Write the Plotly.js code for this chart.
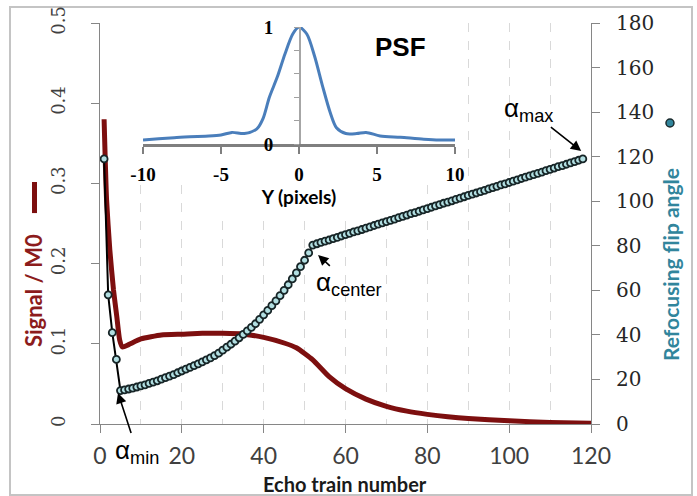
<!DOCTYPE html>
<html>
<head>
<meta charset="utf-8">
<script src="https://cdn.plot.ly/plotly-3.0.1.min.js"></script>
<style>html,body{margin:0;padding:0;background:#fff;}#chart{width:697px;height:496px;}</style>
</head>
<body>
<div id="chart"></div>
<script>
// ---- Data ----
// Signal / M0 along the echo train (left axis)
const signalEcho = [1, 1.6, 2.4, 3.3, 4.1, 4.8, 5.5, 7, 10, 15, 20, 25, 30, 35, 40, 45, 48, 52, 56, 60, 65, 70, 75, 80, 85, 90, 100, 110, 120];
const signalVal  = [0.38, 0.28, 0.217, 0.167, 0.134, 0.105, 0.096, 0.099, 0.106, 0.111, 0.112, 0.113, 0.113, 0.112, 0.108, 0.101, 0.095, 0.080, 0.059, 0.044, 0.031, 0.022, 0.016, 0.012, 0.009, 0.007, 0.004, 0.002, 0.001];

// Refocusing flip angle per echo (right axis), echoes 1..118
const flipEcho = [];
for (let i = 1; i <= 118; i++) flipEcho.push(i);
const flipAngle = [
  119, 58, 41, 29, 15,
  15.3, 15.7, 16.1, 16.6, 17.1, 17.6, 18.2, 18.8, 19.4, 20.1,
  20.8, 21.5, 22.2, 23.0, 23.8, 24.6, 25.4, 26.2, 27.0, 27.9,
  28.8, 29.7, 30.7, 31.8, 33.2, 34.5, 35.8, 37.2, 38.7, 40.2,
  41.8, 43.4, 45.0, 47.0, 49.0, 51.0, 53.1, 55.3, 57.6, 60.0,
  62.5, 65.1, 67.8, 70.6, 73.5, 76.8, 80.3,
  80.9, 81.5, 82.1, 82.6, 83.2, 83.8, 84.4, 85.0, 85.6, 86.2,
  86.7, 87.3, 87.9, 88.5, 89.1, 89.7, 90.3, 90.8, 91.4, 92.0,
  92.6, 93.2, 93.8, 94.4, 94.9, 95.5, 96.1, 96.7, 97.3, 97.9,
  98.5, 99.1, 99.6, 100.2, 100.8, 101.4, 102.0, 102.6, 103.2, 103.7,
  104.3, 104.9, 105.5, 106.1, 106.7, 107.3, 107.8, 108.4, 109.0, 109.6,
  110.2, 110.8, 111.4, 111.9, 112.5, 113.1, 113.7, 114.3, 114.9, 115.5,
  116.0, 116.6, 117.2, 117.8, 118.4, 119.0
];

// Inset: point spread function
const psfX = [-10, -9, -8, -7, -6, -5, -4.3, -3.5, -2.7, -2.3, -1.9, -1.4, -0.9, -0.4, 0, 0.5, 1.0, 1.5, 2.0, 2.4, 3.0, 3.7, 4.3, 5.2, 6.5, 8, 9, 10];
const psfY = [0.034, 0.045, 0.055, 0.062, 0.068, 0.077, 0.10, 0.09, 0.13, 0.22, 0.40, 0.57, 0.77, 0.94, 1.0, 0.94, 0.75, 0.50, 0.27, 0.14, 0.09, 0.09, 0.10, 0.07, 0.058, 0.042, 0.035, 0.034];
const psfTickVals = [-10, -5, 0, 5, 10];
const psfTickText = ['-10', '-5', '0', '5', '10'];
const psfYTickVals = [0, 1];
const psfYTickText = ['0', '1'];

// ---- Figure ----
const axisGray = '#868686';
const serif = 'DejaVu Serif';
const annFont = {family: 'Liberation Sans', size: 26, color: '#000000'};
const arrowStyle = {showarrow: true, arrowhead: 2, arrowsize: 1.3, arrowwidth: 1.6, arrowcolor: '#000000', standoff: 0};

const traces = [
  {
    x: signalEcho, y: signalVal, xaxis: 'x', yaxis: 'y',
    mode: 'lines', name: 'Signal / M0',
    line: {color: '#7d0f0f', width: 5, shape: 'spline', smoothing: 0.5},
    hoverinfo: 'skip', showlegend: false
  },
  {
    x: flipEcho, y: flipAngle, xaxis: 'x', yaxis: 'y3',
    mode: 'lines+markers', name: 'Refocusing flip angle',
    line: {color: '#000000', width: 2},
    marker: {symbol: 'circle', size: 7, color: '#b2dfe2', line: {color: '#172527', width: 1.8}},
    hoverinfo: 'skip', showlegend: false
  },
  {
    x: psfX, y: psfY, xaxis: 'x2', yaxis: 'y2',
    mode: 'lines', name: 'PSF',
    line: {color: '#4a7ebb', width: 3, shape: 'spline', smoothing: 0.8},
    hoverinfo: 'skip', showlegend: false
  }
];

const layout = {
  width: 697, height: 496,
  margin: {l: 100, r: 106, t: 23, b: 72, pad: 0},
  paper_bgcolor: '#ffffff', plot_bgcolor: '#ffffff',
  font: {family: 'Lato', color: '#404040'},
  showlegend: false,
  xaxis: {
    domain: [0, 1], range: [0, 120], anchor: 'y',
    tickmode: 'linear', tick0: 0, dtick: 20,
    ticks: 'outside', ticklen: 8, tickcolor: axisGray, tickwidth: 1,
    showline: true, linecolor: axisGray, linewidth: 1,
    showgrid: true, gridcolor: '#d9d9d9', griddash: 'dash', gridwidth: 1,
    minor: {dtick: 10, showgrid: true, gridcolor: '#d9d9d9', griddash: 'dash', ticks: ''},
    zeroline: false,
    tickfont: {family: 'Lato', size: 23, color: '#404040'},
    ticklabelstandoff: 3
  },
  yaxis: {
    domain: [0, 1], range: [0, 0.5], anchor: 'x',
    tickmode: 'linear', tick0: 0, dtick: 0.1, tickangle: -90,
    ticks: 'outside', ticklen: 8, tickcolor: axisGray,
    showline: true, linecolor: axisGray, linewidth: 1,
    showgrid: false, zeroline: false,
    tickfont: {family: serif, size: 18, color: '#404040'},
    ticklabelstandoff: 19
  },
  yaxis3: {
    overlaying: 'y', side: 'right', anchor: 'x',
    range: [0, 180], tickmode: 'linear', tick0: 0, dtick: 20,
    ticks: 'outside', ticklen: 8, tickcolor: axisGray,
    showline: true, linecolor: axisGray, linewidth: 1,
    showgrid: false, zeroline: false,
    tickfont: {family: serif, size: 20, color: '#262626'},
    ticklabelstandoff: 12
  },
  xaxis2: {
    domain: [0.0876, 0.723], range: [-10, 10], anchor: 'y2',
    tickmode: 'array', tickvals: psfTickVals, ticktext: psfTickText,
    ticks: 'outside', ticklen: 7, tickwidth: 2, tickcolor: '#7f7f7f',
    showline: true, linecolor: '#7f7f7f', linewidth: 3,
    showgrid: false, zeroline: false,
    tickfont: {family: 'Liberation Serif', size: 19, color: '#000000', weight: 'bold'},
    ticklabelstandoff: 4,
    title: {text: '<b>Y (pixels)</b>', font: {family: 'Lato', size: 19, color: '#000000'}, standoff: 0}
  },
  yaxis2: {
    domain: [0.698, 0.99], range: [0, 1], anchor: 'free', position: 0.4053,
    tickmode: 'array', tickvals: psfYTickVals, ticktext: psfYTickText,
    ticks: 'outside', ticklen: 5, tickcolor: '#a0a0a0',
    minor: {dtick: 0.2, ticks: 'outside', ticklen: 5, tickcolor: '#a0a0a0', showgrid: false},
    showline: true, linecolor: '#a6a6a6', linewidth: 1.5,
    showgrid: false, zeroline: false,
    tickfont: {family: 'Liberation Serif', size: 19, color: '#000000', weight: 'bold'},
    ticklabelstandoff: 17
  },
  shapes: [
    // white background of the inset (hides grid)
    {type: 'rect', xref: 'x', yref: 'y', x0: 5.6, x1: 88.8, y0: 0.298, y1: 0.6, fillcolor: '#ffffff', line: {width: 0}, layer: 'between'},
    {type: 'rect', xref: 'x', yref: 'y', x0: 25.7, x1: 75.8, y0: 0.2606, y1: 0.3, fillcolor: '#ffffff', line: {width: 0}, layer: 'between'},
    // legend glyph for signal (left)
    {type: 'rect', xref: 'paper', yref: 'paper', x0: -0.1385, x1: -0.1283, y0: 0.526, y1: 0.6035, fillcolor: '#7d0f0f', line: {width: 0}},
    // legend glyph for flip angle (right)
    {type: 'circle', xref: 'paper', yref: 'paper', x0: 1.1527, x1: 1.169, y0: 0.7406, y1: 0.7606, fillcolor: '#31859c', line: {color: '#1b2b2d', width: 1.5}},
    // outer frame
    {type: 'rect', xref: 'paper', yref: 'paper', x0: -0.1833, x1: 1.2057, y0: -0.1771, y1: 1.04, line: {color: '#c4c4c4', width: 2}, fillcolor: 'rgba(0,0,0,0)', layer: 'below'}
  ],
  annotations: [
    // axis titles
    {xref: 'paper', yref: 'paper', x: 0.499, y: -0.149, xanchor: 'center', yanchor: 'middle',
     text: '<b>Echo train number</b>', showarrow: false, font: {family: 'Lato', size: 20, color: '#1a1a1a'}},
    {xref: 'paper', yref: 'paper', x: -0.1365, y: 0.334, xanchor: 'center', yanchor: 'middle', textangle: -90,
     text: '<b>Signal / M0</b>', showarrow: false, font: {family: 'Lato', size: 22, color: '#8c1c1c'}},
    {xref: 'paper', yref: 'paper', x: 1.1609, y: 0.3965, xanchor: 'center', yanchor: 'middle', textangle: -90,
     text: '<b>Refocusing flip angle</b>', showarrow: false, font: {family: 'Lato', size: 21, color: '#31859c'}},
    // inset label
    {xref: 'paper', yref: 'paper', x: 0.613, y: 0.939, xanchor: 'center', yanchor: 'middle',
     text: '<b>PSF</b>', showarrow: false, font: {family: 'Liberation Sans', size: 26, color: '#000000'}},
    // alpha labels with arrows
    Object.assign({xref: 'x', yref: 'y3', x: 4.4, y: 13.9, ax: 19, ay: 58, text: 'α<sub>min</sub>', font: annFont}, arrowStyle),
    Object.assign({xref: 'x', yref: 'y3', x: 53.3, y: 75.9, ax: 31, ay: 29, text: 'α<sub>center</sub>', font: annFont}, arrowStyle),
    Object.assign({xref: 'x', yref: 'y3', x: 117.6, y: 122.5, ax: -53, ay: -42, text: 'α<sub>max</sub>', font: annFont}, arrowStyle)
  ]
};

Plotly.newPlot('chart', traces, layout, {staticPlot: true, displayModeBar: false});
</script>
</body>
</html>
